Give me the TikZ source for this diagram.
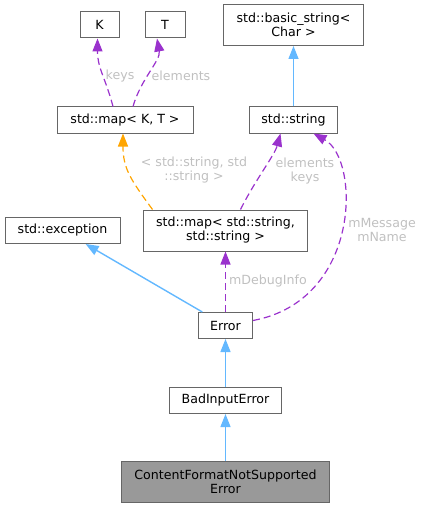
\documentclass[tikz,border=0pt]{standalone}
\usepackage{fontspec}
\setmainfont{DejaVu Sans}
\usetikzlibrary{arrows.meta, positioning}

\definecolor{edgeblue}{HTML}{63B8FF}
\definecolor{edgepurple}{HTML}{9A32CD}
\definecolor{edgeorange}{HTML}{FFA500}
\definecolor{boxgray}{HTML}{666666}
\definecolor{labelgray}{HTML}{C0C0C0}

\begin{document}
\begin{tikzpicture}[
    x=1pt, y=-1pt,
    cls/.style={rectangle, draw=boxgray, line width=1pt, fill=white, inner xsep=3pt, inner ysep=0pt, minimum height=26pt, align=center, font=\fontsize{12.6}{14}\selectfont},
    cls2/.style={cls, minimum height=41pt},
    current/.style={cls2, fill=black!40},
    lbl/.style={text=labelgray, align=center, inner sep=0pt, font=\fontsize{12.6}{14}\selectfont},
    inh/.style={draw=edgeblue, line width=1.4pt, -{Triangle[length=13pt,width=10pt]}},
    member/.style={draw=edgepurple, line width=1.2pt, dashed, dash pattern=on 7pt off 4pt, -{Triangle[length=13pt,width=10pt]}},
    tmpl/.style={draw=edgeorange, line width=1.2pt, dashed, dash pattern=on 7pt off 4pt, -{Triangle[length=13pt,width=10pt]}}
    ]
    \useasboundingbox (0,0) rectangle (424,508);

    % Classes
    \node (k) [cls, minimum width=39pt] at (99.5,25) {K};
    \node (t) [cls, minimum width=40pt] at (165,25) {T};
    \node (mapkt) [cls, minimum width=136pt] at (125,120) {std::map< K, T >};
    \node (basicstr) [cls2, minimum width=140pt] at (293.5,25) {std::basic\_string<\\Char >};
    \node (str) [cls, minimum width=88pt] at (293.5,120) {std::string};
    \node (mapss) [cls2, minimum width=164pt] at (225.5,230.5) {std::map< std::string,\\std::string >};
    \node (exc) [cls, minimum width=115pt] at (62.5,230.5) {std::exception};
    \node (error) [cls, minimum width=54pt] at (225.5,325.5) {Error};
    \node (bad) [cls, minimum width=112pt] at (225.5,400.5) {BadInputError};
    \node (cfnse) [current, minimum width=208pt] at (225.5,482) {ContentFormatNotSupported\\Error};

    % Arrows - inheritance
    \draw [inh] (str) -- (basicstr);
    \draw [inh] (error) -- (exc);
    \draw [inh] (bad) -- (error);
    \draw [inh] (cfnse) -- (bad);

    % Arrows - members
    \draw [member] ([xshift=-12pt]mapkt.north) .. controls +(-8,-30) and +(0,30) .. ([xshift=-2pt]k.south);
    \draw [member] ([xshift=8pt]mapkt.north) .. controls +(8,-28) and +(4,22) .. ([xshift=-8pt]t.south);
    \draw [tmpl] ([xshift=-73pt]mapss.north) .. controls +(-22,-30) and +(0,35) .. ([xshift=-2pt]mapkt.south);
    \draw [member] ([xshift=15pt]mapss.north) .. controls +(15,-30) and +(-6,22) .. ([xshift=-13pt]str.south);
    \draw [member] ([yshift=5pt]error.east) .. controls +(108,-20) and +(47,26) .. ([xshift=20pt]str.south);
    \draw [member] (error) -- (mapss);

    % Labels
    \node (lkeys) [lbl] at (120,76) {keys};
    \node (lelem) [lbl] at (181,76) {elements};
    \node (lstrstr) [lbl] at (194,170) {< std::string, std\\::string >};
    \node (lelkeys) [lbl] at (305,171) {elements\\keys};
    \node (lmsg) [lbl] at (382,230) {mMessage\\mName};
    \node (ldebug) [lbl] at (268,281) {mDebugInfo};

\end{tikzpicture}
\end{document}
